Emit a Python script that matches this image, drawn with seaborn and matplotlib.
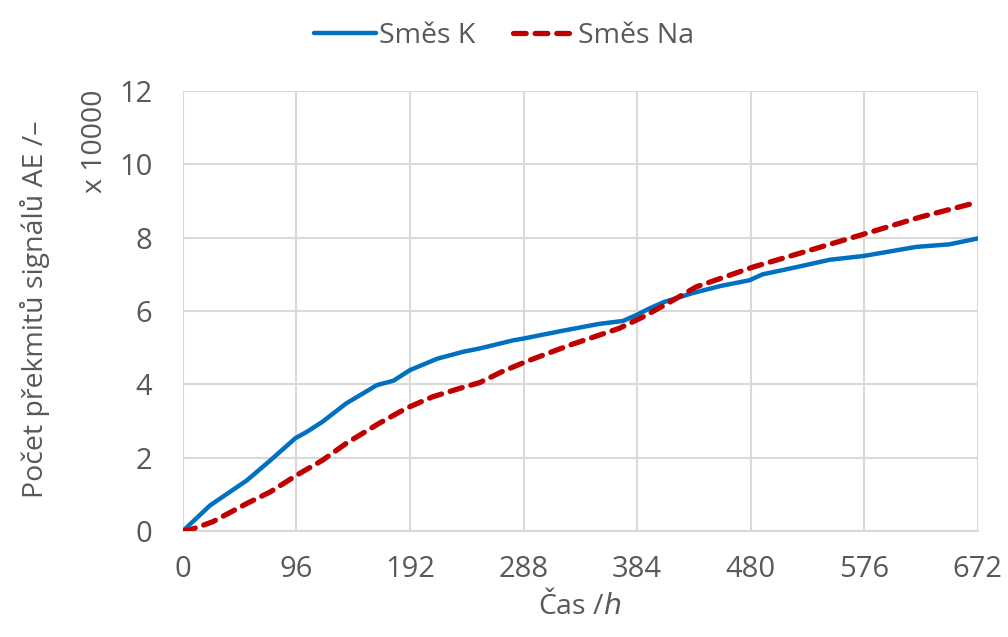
import numpy as np
import pandas as pd
import matplotlib
matplotlib.use("Agg")
import matplotlib.pyplot as plt
import seaborn as sns

# Data (x 10000 counts)
cas_k = [0, 23, 54, 74, 95, 105, 118, 138, 164, 178, 192, 215, 237, 251, 279, 288,
         319, 352, 372, 384, 395, 407, 431, 454, 479, 490, 519, 547, 575, 620, 648, 672]
smes_k = [0, 0.70, 1.38, 1.93, 2.53, 2.71, 2.98, 3.48, 3.98, 4.10, 4.39, 4.70, 4.89, 4.98, 5.20, 5.25,
          5.45, 5.65, 5.73, 5.90, 6.08, 6.25, 6.49, 6.68, 6.84, 7.00, 7.20, 7.40, 7.50, 7.75, 7.82, 7.98]

cas_na = [0, 6, 25, 54, 74, 96, 118, 138, 166, 189, 211, 237, 251, 270, 290, 327,
          369, 389, 412, 434, 482, 524, 581, 623, 672]
smes_na = [0, 0.03, 0.25, 0.75, 1.07, 1.52, 1.93, 2.39, 2.94, 3.35, 3.66, 3.92, 4.05, 4.35, 4.62, 5.07,
           5.53, 5.84, 6.25, 6.66, 7.20, 7.60, 8.15, 8.56, 8.97]

x_ticks = [0, 96, 192, 288, 384, 480, 576, 672]
y_ticks = [0, 2, 4, 6, 8, 10, 12]

sns.set_theme(style="white")
plt.rcParams['font.family'] = ['Open Sans', 'DejaVu Sans']
text_col = '#595959'

fig = plt.figure(figsize=(10.08, 6.37), dpi=100)
ax = fig.add_axes([0.1815, 0.1664, 0.7885, 0.6906])

df_k = pd.DataFrame({'cas': cas_k, 'pocet': smes_k})
df_na = pd.DataFrame({'cas': cas_na, 'pocet': smes_na})

sns.lineplot(data=df_k, x='cas', y='pocet', ax=ax, color='#0070C0', linewidth=3.2,
             label='Směs K', solid_capstyle='round', zorder=3)
sns.lineplot(data=df_na, x='cas', y='pocet', ax=ax, color='#C00000', linewidth=3.8,
             label='Směs Na', dashes=False, zorder=3)
ax.lines[1].set_linestyle((0, (2.4, 1.7)))
ax.lines[1].set_dash_capstyle('round')

ax.set_xlim(0, 672)
ax.set_ylim(0, 12)
ax.set_xticks(x_ticks)
ax.set_yticks(y_ticks)
ax.grid(True, color='#d9d9d9', linewidth=1.5)
ax.set_axisbelow(True)
for s in ['top', 'right', 'left']:
    ax.spines[s].set_visible(False)
ax.spines['bottom'].set_color('#d9d9d9')
ax.spines['bottom'].set_linewidth(1.5)
ax.tick_params(axis='both', labelsize=21, colors=text_col, length=0)
ax.tick_params(axis='x', pad=17)
ax.tick_params(axis='y', pad=22)

ax.set_xlabel('')
ax.set_ylabel('')
fig.text(0.575, 0.05, 'Čas /$\\mathit{h}$', fontsize=20.5, color=text_col,
         ha='center', va='center')
fig.text(0.035, 0.515, 'Počet překmitů signálů AE /–', rotation=90, fontsize=20.5,
         color=text_col, ha='center', va='center')
fig.text(0.094, 0.86, 'x 10000', rotation=90, fontsize=20.5,
         color=text_col, ha='center', va='top')

leg = ax.legend(loc='upper center', ncol=2, frameon=False, fontsize=20.5,
                handlelength=2.2, handletextpad=0.1, columnspacing=1.3,
                labelcolor=text_col)
leg.set_bbox_to_anchor((0.5, 1.005), transform=fig.transFigure)

fig.savefig('out.png', dpi=100)
